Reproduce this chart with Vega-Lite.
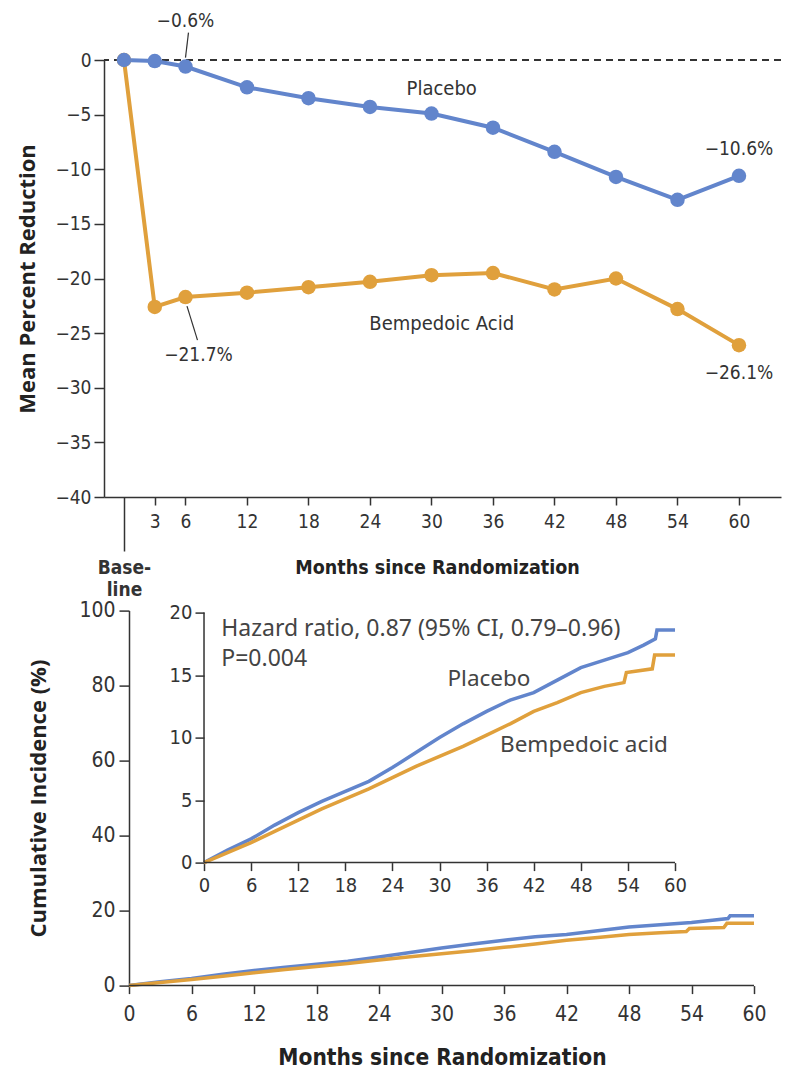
{
  "$schema": "https://vega.github.io/schema/vega-lite/v6.json",
  "background": "white",
  "padding": {"left": 16, "top": 11, "right": 6, "bottom": 0},
  "datasets": {
    "ldl": [
      {"group": "Bempedoic acid", "month": 0, "value": 0},
      {"group": "Bempedoic acid", "month": 3, "value": -22.6},
      {"group": "Bempedoic acid", "month": 6, "value": -21.7},
      {"group": "Bempedoic acid", "month": 12, "value": -21.3},
      {"group": "Bempedoic acid", "month": 18, "value": -20.8},
      {"group": "Bempedoic acid", "month": 24, "value": -20.3},
      {"group": "Bempedoic acid", "month": 30, "value": -19.7},
      {"group": "Bempedoic acid", "month": 36, "value": -19.5},
      {"group": "Bempedoic acid", "month": 42, "value": -21.0},
      {"group": "Bempedoic acid", "month": 48, "value": -20.0},
      {"group": "Bempedoic acid", "month": 54, "value": -22.8},
      {"group": "Bempedoic acid", "month": 60, "value": -26.1},
      {"group": "Placebo", "month": 0, "value": 0},
      {"group": "Placebo", "month": 3, "value": -0.1},
      {"group": "Placebo", "month": 6, "value": -0.6},
      {"group": "Placebo", "month": 12, "value": -2.5},
      {"group": "Placebo", "month": 18, "value": -3.5},
      {"group": "Placebo", "month": 24, "value": -4.3},
      {"group": "Placebo", "month": 30, "value": -4.9},
      {"group": "Placebo", "month": 36, "value": -6.2},
      {"group": "Placebo", "month": 42, "value": -8.4},
      {"group": "Placebo", "month": 48, "value": -10.7},
      {"group": "Placebo", "month": 54, "value": -12.8},
      {"group": "Placebo", "month": 60, "value": -10.6}
    ],
    "events": [
      {"group": "Placebo", "month": 0, "incidence": 0},
      {"group": "Placebo", "month": 3, "incidence": 1.0},
      {"group": "Placebo", "month": 6, "incidence": 1.9},
      {"group": "Placebo", "month": 9, "incidence": 3.0},
      {"group": "Placebo", "month": 12, "incidence": 4.0},
      {"group": "Placebo", "month": 15, "incidence": 4.9},
      {"group": "Placebo", "month": 18, "incidence": 5.7},
      {"group": "Placebo", "month": 21, "incidence": 6.5},
      {"group": "Placebo", "month": 24, "incidence": 7.6},
      {"group": "Placebo", "month": 27, "incidence": 8.8},
      {"group": "Placebo", "month": 30, "incidence": 10.0},
      {"group": "Placebo", "month": 33, "incidence": 11.1},
      {"group": "Placebo", "month": 36, "incidence": 12.1},
      {"group": "Placebo", "month": 39, "incidence": 13.0},
      {"group": "Placebo", "month": 42, "incidence": 13.6},
      {"group": "Placebo", "month": 45, "incidence": 14.6},
      {"group": "Placebo", "month": 48, "incidence": 15.6},
      {"group": "Placebo", "month": 51, "incidence": 16.2},
      {"group": "Placebo", "month": 54, "incidence": 16.8},
      {"group": "Placebo", "month": 56, "incidence": 17.4},
      {"group": "Placebo", "month": 57.5, "incidence": 17.9},
      {"group": "Placebo", "month": 57.7, "incidence": 18.6},
      {"group": "Placebo", "month": 60, "incidence": 18.6},
      {"group": "Bempedoic acid", "month": 0, "incidence": 0},
      {"group": "Bempedoic acid", "month": 3, "incidence": 0.8},
      {"group": "Bempedoic acid", "month": 6, "incidence": 1.6},
      {"group": "Bempedoic acid", "month": 9, "incidence": 2.5},
      {"group": "Bempedoic acid", "month": 12, "incidence": 3.4},
      {"group": "Bempedoic acid", "month": 15, "incidence": 4.3},
      {"group": "Bempedoic acid", "month": 18, "incidence": 5.1},
      {"group": "Bempedoic acid", "month": 21, "incidence": 5.9},
      {"group": "Bempedoic acid", "month": 24, "incidence": 6.8},
      {"group": "Bempedoic acid", "month": 27, "incidence": 7.7},
      {"group": "Bempedoic acid", "month": 30, "incidence": 8.5},
      {"group": "Bempedoic acid", "month": 33, "incidence": 9.3},
      {"group": "Bempedoic acid", "month": 36, "incidence": 10.2},
      {"group": "Bempedoic acid", "month": 39, "incidence": 11.1},
      {"group": "Bempedoic acid", "month": 42, "incidence": 12.1},
      {"group": "Bempedoic acid", "month": 45, "incidence": 12.8},
      {"group": "Bempedoic acid", "month": 48, "incidence": 13.6},
      {"group": "Bempedoic acid", "month": 51, "incidence": 14.1},
      {"group": "Bempedoic acid", "month": 53.5, "incidence": 14.4},
      {"group": "Bempedoic acid", "month": 53.8, "incidence": 15.2},
      {"group": "Bempedoic acid", "month": 57.1, "incidence": 15.5},
      {"group": "Bempedoic acid", "month": 57.4, "incidence": 16.6},
      {"group": "Bempedoic acid", "month": 60, "incidence": 16.6}
    ]
  },
  "spacing": 113.6,
  "bounds": "flush",
  "vconcat": [
    {
      "width": 677,
      "height": 437,
      "layer": [
        {
          "data": {"values": [{}]},
          "mark": {"type": "rule", "strokeDash": [7, 5], "strokeWidth": 2, "color": "#333"},
          "encoding": {"y": {"datum": 0, "type": "quantitative"}}
        },
        {
          "data": {"name": "ldl"},
          "mark": {"type": "line", "strokeWidth": 4, "point": {"filled": true, "size": 210, "opacity": 1}},
          "encoding": {
            "x": {
              "field": "month", "type": "quantitative",
              "scale": {"domain": [-1.95, 64.1], "nice": false, "zero": false},
              "axis": {
                "values": [0, 3, 6, 12, 18, 24, 30, 36, 42, 48, 54, 60],
                "labelExpr": "datum.value === 0 ? ['Base-', 'line'] : datum.label",
                "labelFontWeight": {"condition": {"test": "datum.value === 0", "value": "bold"}, "value": "normal"},
                "tickSize": {"condition": {"test": "datum.value === 0", "value": 54}, "value": 8},
                "labelPadding": 7,
                "labelLineHeight": 22,
                "labelFont": "Liberation Sans Narrow, DejaVu Sans Condensed, sans-serif",
                "labelFontSize": 19,
                "labelFlush": false,
                "labelOverlap": false,
                "title": "Months since Randomization",
                "titleFont": "Liberation Sans Narrow, DejaVu Sans Condensed, sans-serif",
                "titleFontSize": 19.5,
                "titleFontWeight": "bold",
                "titleX": 333,
                "titleAlign": "center",
                "titleY": 70,
                "titleBaseline": "middle"
              }
            },
            "y": {
              "field": "value", "type": "quantitative",
              "scale": {"domain": [-40, 0], "nice": false, "zero": false},
              "axis": {
                "values": [0, -5, -10, -15, -20, -25, -30, -35, -40],
                "tickSize": 10,
                "labelPadding": 3,
                "labelFont": "Liberation Sans Narrow, DejaVu Sans Condensed, sans-serif",
                "labelFontSize": 19,
                "labelOverlap": false,
                "title": "Mean Percent Reduction",
                "titleFont": "Open Sans, sans-serif",
                "titleFontSize": 22,
                "titleFontWeight": "bold",
                "titlePadding": 15
              }
            },
            "color": {
              "field": "group", "type": "nominal",
              "scale": {"domain": ["Placebo", "Bempedoic acid"], "range": ["#6285cc", "#e0a03c"]},
              "legend": null
            }
          }
        },
        {
          "data": {"name": "ldl"},
          "transform": [{"filter": "datum.group === 'Placebo' && datum.month === 6"}],
          "mark": {"type": "rule", "color": "#333", "strokeWidth": 1.2, "yOffset": -9, "y2Offset": -34, "x2Offset": 3},
          "encoding": {
            "x": {"field": "month", "type": "quantitative"},
            "y": {"field": "value", "type": "quantitative"},
            "x2": {"field": "month"},
            "y2": {"field": "value"}
          }
        },
        {
          "data": {"name": "ldl"},
          "transform": [{"filter": "datum.group === 'Placebo' && datum.month === 6"}],
          "mark": {"type": "text", "dy": -46, "fontSize": 19, "font": "Liberation Sans Narrow, DejaVu Sans Condensed, sans-serif", "color": "#333"},
          "encoding": {
            "x": {"field": "month", "type": "quantitative"},
            "y": {"field": "value", "type": "quantitative"},
            "text": {"value": "−0.6%"}
          }
        },
        {
          "data": {"name": "ldl"},
          "transform": [{"filter": "datum.group === 'Bempedoic acid' && datum.month === 6"}],
          "mark": {"type": "rule", "color": "#333", "strokeWidth": 1.2, "yOffset": 9, "xOffset": 1.5, "y2Offset": 43, "x2Offset": 12},
          "encoding": {
            "x": {"field": "month", "type": "quantitative"},
            "y": {"field": "value", "type": "quantitative"},
            "x2": {"field": "month"},
            "y2": {"field": "value"}
          }
        },
        {
          "data": {"name": "ldl"},
          "transform": [{"filter": "datum.group === 'Bempedoic acid' && datum.month === 6"}],
          "mark": {"type": "text", "dx": 13, "dy": 58, "fontSize": 19, "font": "Liberation Sans Narrow, DejaVu Sans Condensed, sans-serif", "color": "#333"},
          "encoding": {
            "x": {"field": "month", "type": "quantitative"},
            "y": {"field": "value", "type": "quantitative"},
            "text": {"value": "−21.7%"}
          }
        },
        {
          "data": {"name": "ldl"},
          "transform": [{"filter": "datum.group === 'Placebo' && datum.month === 60"}],
          "mark": {"type": "text", "dy": -27, "fontSize": 19, "font": "Liberation Sans Narrow, DejaVu Sans Condensed, sans-serif", "color": "#333"},
          "encoding": {
            "x": {"field": "month", "type": "quantitative"},
            "y": {"field": "value", "type": "quantitative"},
            "text": {"value": "−10.6%"}
          }
        },
        {
          "data": {"name": "ldl"},
          "transform": [{"filter": "datum.group === 'Bempedoic acid' && datum.month === 60"}],
          "mark": {"type": "text", "dy": 28, "fontSize": 19, "font": "Liberation Sans Narrow, DejaVu Sans Condensed, sans-serif", "color": "#333"},
          "encoding": {
            "x": {"field": "month", "type": "quantitative"},
            "y": {"field": "value", "type": "quantitative"},
            "text": {"value": "−26.1%"}
          }
        },
        {
          "data": {"values": [
            {"name": "Placebo", "month": 31, "value": -2.7},
            {"name": "Bempedoic Acid", "month": 31, "value": -24.2}
          ]},
          "mark": {"type": "text", "fontSize": 20, "font": "Liberation Sans Narrow, DejaVu Sans Condensed, sans-serif", "color": "#333"},
          "encoding": {
            "x": {"field": "month", "type": "quantitative"},
            "y": {"field": "value", "type": "quantitative"},
            "text": {"field": "name"}
          }
        }
      ]
    },
    {
      "width": 650,
      "height": 375,
      "resolve": {
        "scale": {"x": "independent", "y": "independent"},
        "axis": {"x": "independent", "y": "independent"}
      },
      "layer": [
        {
          "layer": [
            {
              "data": {"name": "events"},
              "mark": {"type": "line", "strokeWidth": 3.5},
              "encoding": {
                "x": {
                  "field": "month", "type": "quantitative",
                  "scale": {"domain": [-2.4, 60], "nice": false, "zero": false},
                  "axis": {
                    "values": [0, 6, 12, 18, 24, 30, 36, 42, 48, 54, 60],
                    "domain": false,
                    "tickSize": 8,
                    "labelPadding": 10,
                    "labelFont": "Liberation Sans Narrow, DejaVu Sans Condensed, sans-serif",
                    "labelFontSize": 21,
                    "labelFlush": false,
                    "labelOverlap": false,
                    "title": "Months since Randomization",
                    "titleFont": "Liberation Sans Narrow, DejaVu Sans Condensed, sans-serif",
                    "titleFontSize": 22.5,
                    "titleFontWeight": "bold",
                    "titleX": 338,
                    "titleAlign": "center",
                    "titleY": 72,
                    "titleBaseline": "middle"
                  }
                },
                "y": {
                  "field": "incidence", "type": "quantitative",
                  "scale": {"domain": [0, 100], "nice": false},
                  "axis": {
                    "orient": "left",
                    "offset": -25,
                    "values": [0, 20, 40, 60, 80, 100],
                    "tickSize": 10,
                    "labelPadding": 4,
                    "labelFont": "Liberation Sans Narrow, DejaVu Sans Condensed, sans-serif",
                    "labelFontSize": 21,
                    "labelOverlap": false,
                    "title": "Cumulative Incidence (%)",
                    "titleFont": "Open Sans, sans-serif",
                    "titleFontSize": 22,
                    "titleFontWeight": "bold",
                    "titlePadding": 28
                  }
                },
                "color": {"field": "group", "type": "nominal", "legend": null}
              }
            },
            {
              "data": {"values": [{}]},
              "mark": {"type": "rule", "color": "#333", "strokeWidth": 1.5},
              "encoding": {
                "x": {"datum": 0, "type": "quantitative"},
                "x2": {"datum": 60},
                "y": {"datum": 0, "type": "quantitative"}
              }
            }
          ]
        },
        {
          "layer": [
            {
              "data": {"name": "events"},
              "mark": {"type": "line", "strokeWidth": 3.5},
              "encoding": {
                "x": {
                  "field": "month", "type": "quantitative",
                  "scale": {"domain": [-12.74, 70.06], "nice": false, "zero": false},
                  "axis": {
                    "orient": "bottom",
                    "offset": -123,
                    "domain": false,
                    "values": [0, 6, 12, 18, 24, 30, 36, 42, 48, 54, 60],
                    "tickSize": 8,
                    "labelPadding": 5,
                    "labelFont": "Liberation Sans Narrow, DejaVu Sans Condensed, sans-serif",
                    "labelFontSize": 20,
                    "labelFlush": false,
                    "labelOverlap": false,
                    "title": null
                  }
                },
                "y": {
                  "field": "incidence", "type": "quantitative",
                  "scale": {"domain": [-9.84, 20.16], "nice": false, "zero": false},
                  "axis": {
                    "orient": "left",
                    "offset": -100,
                    "domain": false,
                    "values": [0, 5, 10, 15, 20],
                    "tickSize": 9,
                    "labelPadding": 3,
                    "labelFont": "Liberation Sans Narrow, DejaVu Sans Condensed, sans-serif",
                    "labelFontSize": 20,
                    "labelOverlap": false,
                    "title": null
                  }
                },
                "color": {"field": "group", "type": "nominal", "legend": null}
              }
            },
            {
              "data": {"values": [{}]},
              "mark": {"type": "rule", "color": "#333", "strokeWidth": 1.5},
              "encoding": {
                "x": {"datum": 0, "type": "quantitative"},
                "y": {"datum": 0, "type": "quantitative"},
                "y2": {"datum": 20}
              }
            },
            {
              "data": {"values": [{}]},
              "mark": {"type": "rule", "color": "#333", "strokeWidth": 1.5},
              "encoding": {
                "x": {"datum": 0, "type": "quantitative"},
                "x2": {"datum": 60},
                "y": {"datum": 0, "type": "quantitative"}
              }
            },
            {
              "data": {"values": [
                {"note": "Hazard ratio, 0.87 (95% CI, 0.79–0.96)", "month": 2.2, "incidence": 18.7},
                {"note": "P=0.004", "month": 2.2, "incidence": 16.3}
              ]},
              "mark": {"type": "text", "align": "left", "baseline": "middle", "fontSize": 23, "font": "Noto Sans, sans-serif", "color": "#444"},
              "encoding": {
                "x": {"field": "month", "type": "quantitative"},
                "y": {"field": "incidence", "type": "quantitative"},
                "text": {"field": "note"}
              }
            },
            {
              "data": {"values": [
                {"note": "Placebo", "month": 36.3, "incidence": 14.7},
                {"note": "Bempedoic acid", "month": 48.4, "incidence": 9.4}
              ]},
              "mark": {"type": "text", "align": "center", "baseline": "middle", "fontSize": 22.5, "font": "Noto Sans, sans-serif", "color": "#444"},
              "encoding": {
                "x": {"field": "month", "type": "quantitative"},
                "y": {"field": "incidence", "type": "quantitative"},
                "text": {"field": "note"}
              }
            }
          ]
        }
      ]
    }
  ],
  "config": {
    "view": {"stroke": null},
    "axis": {
      "grid": false,
      "domainColor": "#333",
      "domainWidth": 1.5,
      "tickColor": "#333",
      "tickWidth": 1.5,
      "labelColor": "#333",
      "titleColor": "#222"
    }
  }
}
